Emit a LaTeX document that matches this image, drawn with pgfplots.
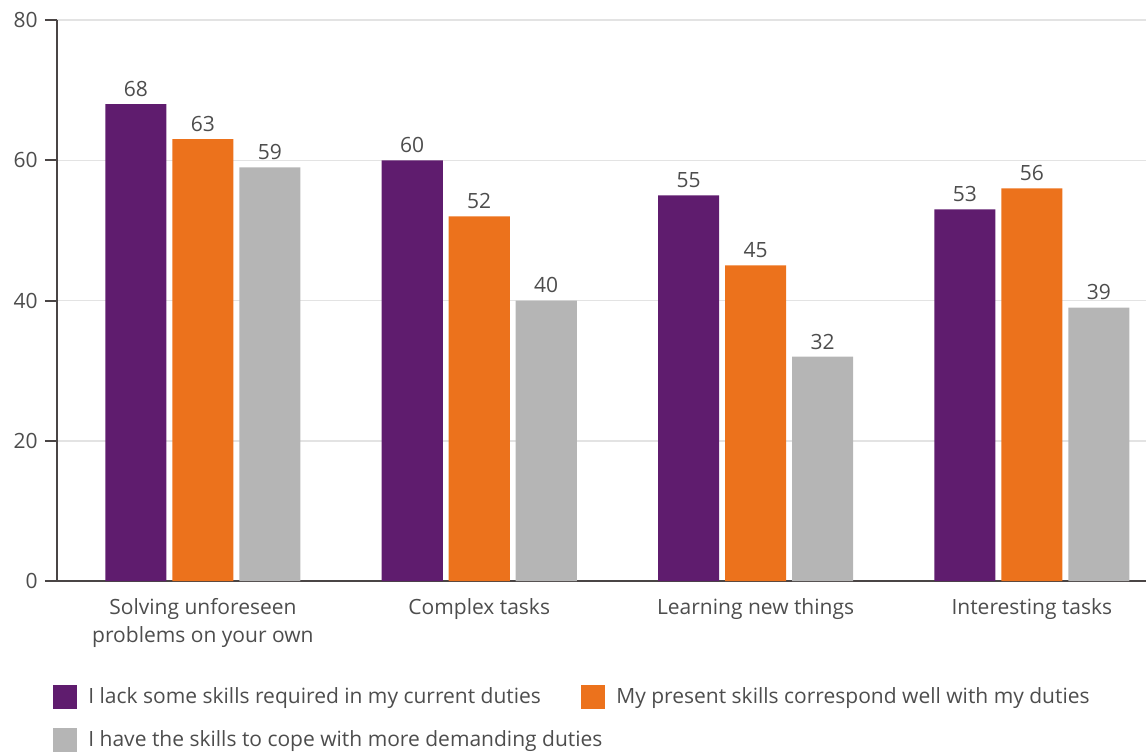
\documentclass[border=0pt]{standalone}
\usepackage{pgfplots}
\pgfplotsset{compat=1.18}
\usepackage{fontspec}
\setmainfont{Open Sans}
\definecolor{cpur}{HTML}{5F1C6E}
\definecolor{cora}{HTML}{EC721C}
\definecolor{cgry}{HTML}{B5B5B5}
\definecolor{ctxt}{HTML}{4D4D4D}
\definecolor{caxis}{HTML}{4A4545}
\definecolor{cgrid}{HTML}{E3E3E3}
\begin{document}
\fontsize{10.5}{12.6}\selectfont
\begin{tikzpicture}
\useasboundingbox (-28.5pt,-85pt) rectangle (544.5pt,290.5pt);
\begin{axis}[
  at={(0pt,0pt)}, anchor=south west,
  scale only axis, width=544.5pt, height=280.5pt,
  ymin=0, ymax=80, ytick={0,20,40,60,80},
  xmin=-0.528, xmax=3.413,
  xtick={0,1,2,3},
  xticklabels={{Solving unforeseen\\problems on your own},{Complex tasks},{Learning new things},{Interesting tasks}},
  axis x line*=bottom, axis y line*=left,
  axis line style={color=caxis, line width=1pt},
  x axis line style={shorten <=-6pt},
  xtick style={draw=none},
  ytick style={color=caxis, line width=1pt},
  tick align=outside, major tick length=6pt,
  ymajorgrids, grid style={color=cgrid, line width=0.75pt},
  /pgf/number format/assume math mode=true,
  ticklabel style={font=\fontsize{10.5}{14}\selectfont, color=ctxt},
  xticklabel style={align=center, yshift=1pt},
  ybar, bar width=0.221,
  nodes near coords,
  every node near coord/.append style={font=\fontsize{10.5}{12.6}\selectfont, color=ctxt},
  legend columns=2,
  legend style={at={(rel axis cs:-0.0037,-0.182)}, anchor=north west, draw=none, fill=none,
    inner sep=0pt, row sep=8pt, font=\fontsize{10.5}{12.6}\selectfont, text=ctxt,
    cells={anchor=west},
    /tikz/every odd column/.append style={column sep=3.5pt}},
  legend image code/.code={\fill[#1] (0pt,-6pt) rectangle (12pt,6pt);},
]
\addplot[fill=cpur, draw=none, bar shift=-0.2425] coordinates {(0,68) (1,60) (2,55) (3,53)};
\addplot[fill=cora, draw=none, bar shift=0] coordinates {(0,63) (1,52) (2,45) (3,56)};
\addplot[fill=cgry, draw=none, bar shift=0.2425] coordinates {(0,59) (1,40) (2,32) (3,39)};
\legend{\makebox[244.5pt][l]{I lack some skills required in my current duties},
  {My present skills correspond well with my duties},
  \makebox[244.5pt][l]{I have the skills to cope with more demanding duties}}
\end{axis}
\end{tikzpicture}
\end{document}
